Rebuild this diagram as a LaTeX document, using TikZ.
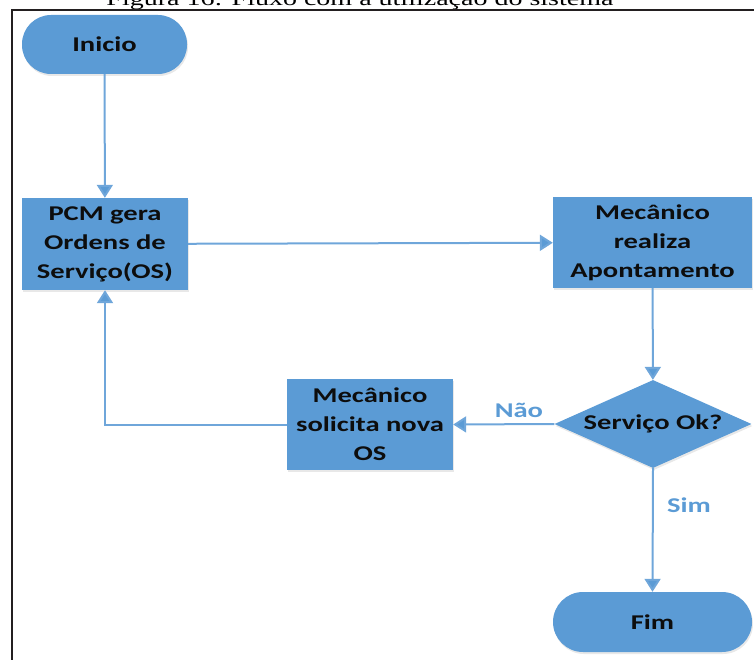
\documentclass[tikz,border=0pt]{standalone}
\usepackage{fontspec}
\usetikzlibrary{shapes.geometric,arrows.meta,shadows}
\newfontfamily\boxfont{Carlito}[FakeStretch=1.36]
\newfontfamily\capfont{Liberation Serif}[FakeStretch=1.4]
\definecolor{boxblue}{HTML}{5B9BD5}
\definecolor{linkblue}{HTML}{6FA6DA}
\definecolor{framegray}{HTML}{231F20}
\definecolor{textdark}{HTML}{0D0D0D}
\tikzset{
  flowbox/.style={rectangle, fill=boxblue, draw=none, text=textdark, align=center,
    font=\boxfont\bfseries\fontsize{21}{29}\selectfont, inner sep=0pt,
    drop shadow={opacity=0.18, shadow xshift=1pt, shadow yshift=-2pt}},
  pill/.style={flowbox, rounded corners=#1},
  decision/.style={flowbox, diamond, aspect=2.24},
  link/.style={draw=linkblue, line width=2pt, -{Triangle[width=16pt,length=13pt,fill=boxblue]}},
  linklabel/.style={text=boxblue, font=\boxfont\bfseries\fontsize{21}{24}\selectfont}
}
\begin{document}
\begin{tikzpicture}[x=1pt,y=-1pt]
\useasboundingbox (0,0) rectangle (754,660);
\clip (0,0) rectangle (754,660);

% caption above the frame
\node[anchor=base, inner sep=0pt, font=\capfont\fontsize{20}{24}\selectfont] (caption) at (360,6)
  {Figura 16: Fluxo com a utilização do sistema};

% frame
\draw[framegray, line width=2pt] (12,662) -- (12,10) -- (756,10);

% nodes
\node[pill=29pt, minimum width=165pt, minimum height=59pt] (inicio) at (104.5,44.5) {Inicio};
\node[flowbox, minimum width=166pt, minimum height=92pt] (pcm) at (105,244)
  {PCM gera\\Ordens de\\Serviço(OS)};
\node[flowbox, minimum width=199pt, minimum height=91pt] (realiza) at (652.5,242.5)
  {Mecânico\\realiza\\Apontamento};
\node[decision, minimum width=197pt, minimum height=88pt] (ok) at (653,424) {Serviço Ok?};
\node[flowbox, minimum width=166pt, minimum height=91pt] (solicita) at (370,424.5)
  {Mecânico\\solicita nova\\OS};
\node[pill=30pt, minimum width=199pt, minimum height=60pt] (fim) at (652.5,622) {Fim};

% connectors
\draw[link] (inicio) -- (pcm);
\draw[link] (pcm) -- (realiza);
\draw[link] (realiza) -- (ok);
\draw[link] (ok.west) -- node[linklabel, pos=0.35, above=2pt] (nao) {Não} (solicita.east);
\draw[link] (solicita.west) -| (pcm.south);
\draw[link] (ok.south) -- node[linklabel, pos=0.3, right=10pt] (sim) {Sim} (fim.north);
\end{tikzpicture}
\end{document}
